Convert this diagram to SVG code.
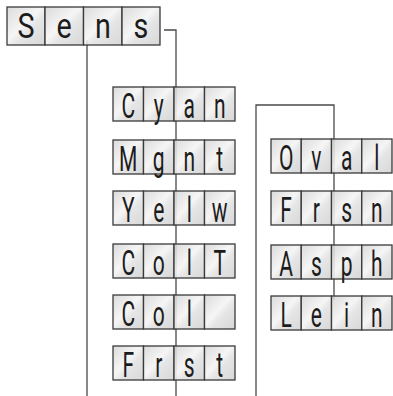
<svg xmlns="http://www.w3.org/2000/svg" width="393" height="396" viewBox="0 0 393 396">
<defs>
<linearGradient id="silver" x1="0" y1="0" x2="1" y2="1">
<stop offset="0" stop-color="#d6d6d6"/>
<stop offset="0.45" stop-color="#f4f4f4"/>
<stop offset="0.6" stop-color="#e2e2e2"/>
<stop offset="1" stop-color="#d2d2d2"/>
</linearGradient>
</defs>
<style>
.c{fill:url(#silver);fill-opacity:0.88;stroke:#3a3a3a;stroke-width:1.3}
.t{font-family:Roboto,"Liberation Sans",sans-serif;font-weight:400;font-size:35px;fill:#1c1c1c;text-anchor:middle}
.ln{fill:none;stroke:#4a4a4a;stroke-width:1.3}
</style>
<rect width="393" height="396" fill="#fff"/>
<g id="connectors">
<path class="ln" d="M87,40 V396"/>
<path class="ln" d="M164,30 H176 V396"/>
<path class="ln" d="M256,396 V105 H334 V300"/>
</g>
<g id="sens">
<rect class="c" x="7" y="7" width="38" height="38"/><rect class="c" x="45" y="7" width="38.5" height="38"/><rect class="c" x="83.5" y="7" width="38.5" height="38"/><rect class="c" x="122" y="7" width="38" height="38"/>
<text class="t" transform="translate(26,38) scale(0.82,1)">S</text><text class="t" transform="translate(64,38) scale(0.82,1)">e</text><text class="t" transform="translate(103,38) scale(0.82,1)">n</text><text class="t" transform="translate(141,38) scale(0.82,1)">s</text>
</g>
<g id="cyan">
<rect class="c" x="113" y="87" width="30.5" height="34"/><rect class="c" x="143.5" y="87" width="30.5" height="34"/><rect class="c" x="174" y="87" width="30.5" height="34"/><rect class="c" x="204.5" y="87" width="30.5" height="34"/>
<text class="t" transform="translate(128.25,118) scale(0.6,1)">C</text><text class="t" transform="translate(158.75,118) scale(0.6,1)">y</text><text class="t" transform="translate(189.25,118) scale(0.6,1)">a</text><text class="t" transform="translate(219.75,118) scale(0.6,1)">n</text>
</g>
<g id="mgnt">
<rect class="c" x="113" y="140" width="30.5" height="34"/><rect class="c" x="143.5" y="140" width="30.5" height="34"/><rect class="c" x="174" y="140" width="30.5" height="34"/><rect class="c" x="204.5" y="140" width="30.5" height="34"/>
<text class="t" transform="translate(128.25,171) scale(0.6,1)">M</text><text class="t" transform="translate(158.75,171) scale(0.6,1)">g</text><text class="t" transform="translate(189.25,171) scale(0.6,1)">n</text><text class="t" transform="translate(219.75,171) scale(0.6,1)">t</text>
</g>
<g id="yelw">
<rect class="c" x="113" y="191" width="30.5" height="34"/><rect class="c" x="143.5" y="191" width="30.5" height="34"/><rect class="c" x="174" y="191" width="30.5" height="34"/><rect class="c" x="204.5" y="191" width="30.5" height="34"/>
<text class="t" transform="translate(128.25,222) scale(0.6,1)">Y</text><text class="t" transform="translate(158.75,222) scale(0.6,1)">e</text><text class="t" transform="translate(189.25,222) scale(0.6,1)">l</text><text class="t" transform="translate(219.75,222) scale(0.6,1)">w</text>
</g>
<g id="colt">
<rect class="c" x="113" y="244" width="30.5" height="34"/><rect class="c" x="143.5" y="244" width="30.5" height="34"/><rect class="c" x="174" y="244" width="30.5" height="34"/><rect class="c" x="204.5" y="244" width="30.5" height="34"/>
<text class="t" transform="translate(128.25,275) scale(0.6,1)">C</text><text class="t" transform="translate(158.75,275) scale(0.6,1)">o</text><text class="t" transform="translate(189.25,275) scale(0.6,1)">l</text><text class="t" transform="translate(219.75,275) scale(0.6,1)">T</text>
</g>
<g id="col">
<rect class="c" x="113" y="295" width="30.5" height="34"/><rect class="c" x="143.5" y="295" width="30.5" height="34"/><rect class="c" x="174" y="295" width="30.5" height="34"/><rect class="c" x="204.5" y="295" width="30.5" height="34"/>
<text class="t" transform="translate(128.25,326) scale(0.6,1)">C</text><text class="t" transform="translate(158.75,326) scale(0.6,1)">o</text><text class="t" transform="translate(189.25,326) scale(0.6,1)">l</text>
</g>
<g id="frst">
<rect class="c" x="113" y="346" width="30.5" height="34"/><rect class="c" x="143.5" y="346" width="30.5" height="34"/><rect class="c" x="174" y="346" width="30.5" height="34"/><rect class="c" x="204.5" y="346" width="30.5" height="34"/>
<text class="t" transform="translate(128.25,377) scale(0.6,1)">F</text><text class="t" transform="translate(158.75,377) scale(0.6,1)">r</text><text class="t" transform="translate(189.25,377) scale(0.6,1)">s</text><text class="t" transform="translate(219.75,377) scale(0.6,1)">t</text>
</g>
<g id="oval">
<rect class="c" x="271" y="139" width="30.25" height="34"/><rect class="c" x="301.25" y="139" width="30.25" height="34"/><rect class="c" x="331.5" y="139" width="30.25" height="34"/><rect class="c" x="361.75" y="139" width="30.25" height="34"/>
<text class="t" transform="translate(286.1,170) scale(0.6,1)">O</text><text class="t" transform="translate(316.4,170) scale(0.6,1)">v</text><text class="t" transform="translate(346.6,170) scale(0.6,1)">a</text><text class="t" transform="translate(376.9,170) scale(0.6,1)">l</text>
</g>
<g id="frsn">
<rect class="c" x="271" y="191" width="30.25" height="34"/><rect class="c" x="301.25" y="191" width="30.25" height="34"/><rect class="c" x="331.5" y="191" width="30.25" height="34"/><rect class="c" x="361.75" y="191" width="30.25" height="34"/>
<text class="t" transform="translate(286.1,222) scale(0.6,1)">F</text><text class="t" transform="translate(316.4,222) scale(0.6,1)">r</text><text class="t" transform="translate(346.6,222) scale(0.6,1)">s</text><text class="t" transform="translate(376.9,222) scale(0.6,1)">n</text>
</g>
<g id="asph">
<rect class="c" x="271" y="245" width="30.25" height="34"/><rect class="c" x="301.25" y="245" width="30.25" height="34"/><rect class="c" x="331.5" y="245" width="30.25" height="34"/><rect class="c" x="361.75" y="245" width="30.25" height="34"/>
<text class="t" transform="translate(286.1,276) scale(0.6,1)">A</text><text class="t" transform="translate(316.4,276) scale(0.6,1)">s</text><text class="t" transform="translate(346.6,276) scale(0.6,1)">p</text><text class="t" transform="translate(376.9,276) scale(0.6,1)">h</text>
</g>
<g id="lein">
<rect class="c" x="271" y="296" width="30.25" height="34"/><rect class="c" x="301.25" y="296" width="30.25" height="34"/><rect class="c" x="331.5" y="296" width="30.25" height="34"/><rect class="c" x="361.75" y="296" width="30.25" height="34"/>
<text class="t" transform="translate(286.1,327) scale(0.6,1)">L</text><text class="t" transform="translate(316.4,327) scale(0.6,1)">e</text><text class="t" transform="translate(346.6,327) scale(0.6,1)">i</text><text class="t" transform="translate(376.9,327) scale(0.6,1)">n</text>
</g>
</svg>
